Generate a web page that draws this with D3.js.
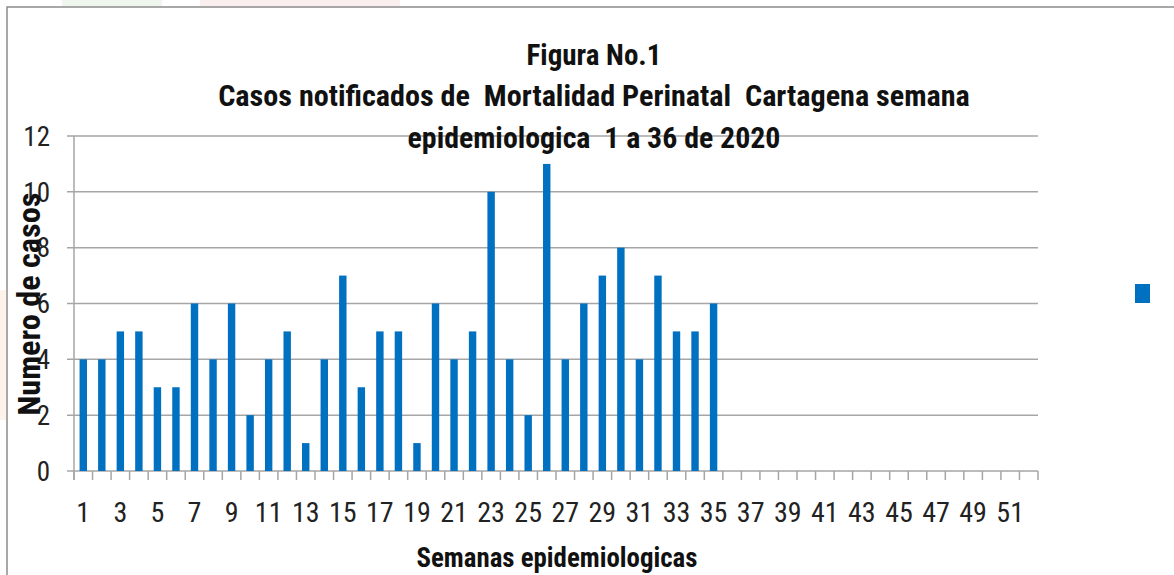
<!DOCTYPE html>
<html><head><meta charset="utf-8">
<script src="https://cdn.jsdelivr.net/npm/d3@7"></script>
<style>html,body{margin:0;padding:0;background:#fff;}svg{display:block;} text{white-space:pre;}</style>
</head><body>
<svg id="chart" width="1174" height="575"></svg>
<script>
const weeks = d3.range(1, 53);
const casos = [4,4,5,5,3,3,6,4,6,2,4,5,1,4,7,3,5,5,1,6,4,5,10,4,2,11,4,6,7,8,4,7,5,5,6];
const yTicks = [0,2,4,6,8,10,12];
const xTickLabels = weeks.filter(w => w % 2 === 1);
const titleLines = ["Figura No.1", "Casos notificados de  Mortalidad Perinatal  Cartagena semana", "epidemiologica  1 a 36 de 2020"];
const yTitle = "Numero de casos";
const xTitle = "Semanas epidemiologicas";

const FONT = "'Liberation Sans Narrow','Arial Narrow','Roboto Condensed','Liberation Sans',sans-serif";
const svg = d3.select("#chart");
const W = 1174, H = 575;
const m = {left: 74, right: 1038, top: 136, bottom: 471};

// faint background watermark
svg.append("rect").attr("x", 62).attr("y", 0).attr("width", 100).attr("height", 7).attr("fill", "#eef6ee");
svg.append("rect").attr("x", 200).attr("y", 0).attr("width", 200).attr("height", 7).attr("fill", "#fbeeee");
svg.append("rect").attr("x", 0).attr("y", 290).attr("width", 6).attr("height", 130).attr("fill", "#fdf3ea");

// frame
svg.append("path").attr("d", `M7,${H} V7 H${W}`).attr("fill", "none").attr("stroke", "#8c8c8c").attr("stroke-width", 1.5);

const x = d3.scaleBand().domain(weeks).range([m.left, m.right]).paddingInner(0.6).paddingOuter(0.3);
const y = d3.scaleLinear().domain([0, 12]).range([m.bottom, m.top]);
const step = x.step();

// gridlines
svg.append("g").selectAll("line").data(yTicks).join("line")
  .attr("x1", m.left - 7).attr("x2", m.right)
  .attr("y1", d => y(d)).attr("y2", d => y(d))
  .attr("stroke", "#a6a6a6").attr("stroke-width", 1.5);

// y axis line
svg.append("line").attr("x1", m.left).attr("x2", m.left).attr("y1", m.top).attr("y2", m.bottom + 9)
  .attr("stroke", "#a6a6a6").attr("stroke-width", 1.5);

// x ticks at boundaries
const bounds = weeks.map(w => x(w) - step * 0.3).concat([m.right]);
svg.append("g").selectAll("line").data(bounds).join("line")
  .attr("x1", d => d).attr("x2", d => d).attr("y1", m.bottom).attr("y2", m.bottom + 9)
  .attr("stroke", "#a6a6a6").attr("stroke-width", 1.5);

// bars
svg.append("g").selectAll("rect").data(casos).join("rect")
  .attr("x", (d, i) => x(weeks[i]))
  .attr("width", x.bandwidth())
  .attr("y", d => y(d))
  .attr("height", d => y(0) - y(d))
  .attr("fill", "#0070c0");

// y labels
svg.append("g").selectAll("text").data(yTicks).join("text")
  .attr("x", 50).attr("y", d => y(d)).attr("dy", "0.36em")
  .attr("text-anchor", "end").attr("font-family", FONT).attr("font-size", 27).attr("fill", "#222")
  .text(d => d);

// x labels
svg.append("g").selectAll("text").data(xTickLabels).join("text")
  .attr("x", d => x(d) + x.bandwidth() / 2).attr("y", 522)
  .attr("text-anchor", "middle").attr("font-family", FONT).attr("font-size", 28).attr("fill", "#222")
  .text(d => d);

// fit helper
function fit(sel, target) {
  const w = sel.node().getComputedTextLength();
  const fs = parseFloat(sel.attr("font-size"));
  if (w > 0) sel.attr("font-size", fs * target / w);
}

// titles
const tW = [135, 752, 373];
const tY = [65, 106, 148];
titleLines.forEach((t, i) => {
  const s = svg.append("text").attr("x", 594).attr("y", tY[i]).attr("text-anchor", "middle")
    .attr("font-family", FONT).attr("font-weight", "bold").attr("font-size", 26).attr("fill", "#111")
    .text(t);
  fit(s, tW[i]);
});

// axis titles
const xt = svg.append("text").attr("x", 557).attr("y", 567).attr("text-anchor", "middle")
  .attr("font-family", FONT).attr("font-weight", "bold").attr("font-size", 24).attr("fill", "#111").text(xTitle);
fit(xt, 281);
const yt = svg.append("text").attr("transform", "translate(40,304) rotate(-90)").attr("text-anchor", "middle")
  .attr("font-family", FONT).attr("font-weight", "bold").attr("font-size", 26).attr("fill", "#111").text(yTitle);
fit(yt, 223);

// legend
svg.append("rect").attr("x", 1135).attr("y", 284).attr("width", 15).attr("height", 19).attr("fill", "#0070c0");
</script>
</body></html>
